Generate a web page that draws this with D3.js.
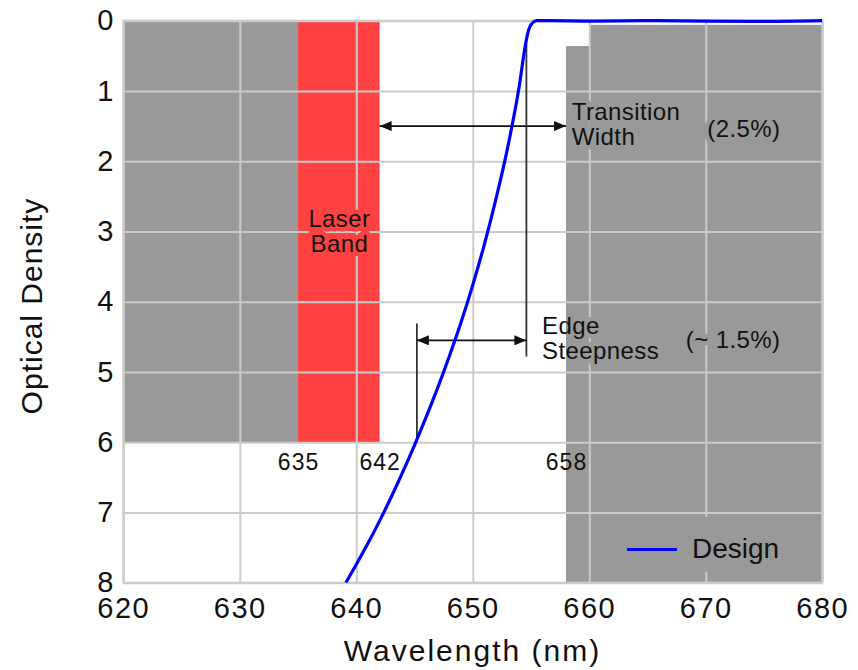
<!DOCTYPE html>
<html><head><meta charset="utf-8">
<script src="https://cdn.jsdelivr.net/npm/d3@7"></script>
<style>
body{margin:0;background:#fff}
text{font-family:"Liberation Sans",Arial,Helvetica,sans-serif;fill:#111}
</style>
</head><body>
<svg id="chart" width="858" height="670"></svg>
<script>
// ---------- data ----------
const xTicks = [620, 630, 640, 650, 660, 670, 680];
const yTicks = [0, 1, 2, 3, 4, 5, 6, 7, 8];

// Design curve (wavelength nm -> optical density)
const designWl = [639.1, 640, 641, 642, 643, 644, 645, 646, 647, 648, 649, 650, 651, 652, 653, 654, 654.5, 654.8, 655.1, 655.5, 656.5, 660, 665, 670, 675, 680];
const designOD = [8.0, 7.74, 7.44, 7.12, 6.78, 6.42, 6.04, 5.64, 5.22, 4.77, 4.29, 3.76, 3.18, 2.53, 1.80, 0.92, 0.36, 0.13, 0.035, 0.0, 0.0, 0.005, 0.0, 0.005, 0.01, 0.0];

// Specification blocks
const blockX0 = [620, 635, 658, 660];
const blockX1 = [635, 642, 660, 680];
const blockTop = [0, 0, 0.36, 0.06];
const blockBottom = [6, 6, 8, 8];
const blockKind = ["block", "laser", "block", "block"];

// Band edge labels
const edgeLabels = ["635", "642", "658"];
const edgeValues = [635, 642, 658];

// Annotation values
const transitionArrow = {from: 642, to: 658, od: 1.5};
const steepArrow = {from: 645.2, to: 654.6, od: 4.55};
const markerLines = [{wl: 654.6, od0: 0.33, od1: 4.78}, {wl: 645.2, od0: 4.31, od1: 6.0}];

const seriesName = "Design";

// ---------- layout ----------
const x = d3.scaleLinear().domain([620, 680]).range([123.3, 822.3]);
const y = d3.scaleLinear().domain([0, 8]).range([20.7, 582.7]);
const GREY = "#999999", RED = "#fe4141", GRID = "#cbcbcb";
const kindColor = {block: GREY, laser: RED};

const svg = d3.select("#chart");
const defs = svg.append("defs");

const blocks = blockX0.map((d, i) => ({x0: d, x1: blockX1[i], top: blockTop[i], bottom: blockBottom[i], kind: blockKind[i]}));

blocks.forEach((b, i) => {
  defs.append("clipPath").attr("id", "clip" + i)
    .append("rect")
    .attr("x", x(b.x0)).attr("y", y(b.top))
    .attr("width", x(b.x1) - x(b.x0)).attr("height", y(b.bottom) - y(b.top));
});
defs.append("clipPath").attr("id", "plotclip").append("rect")
  .attr("x", x(620)).attr("y", y(0) - 3).attr("width", x(680) - x(620)).attr("height", y(8) - y(0) + 3);

defs.append("marker").attr("id", "arr").attr("viewBox", "0 0 12 10")
  .attr("refX", 12).attr("refY", 5).attr("markerWidth", 12).attr("markerHeight", 10)
  .attr("markerUnits", "userSpaceOnUse").attr("orient", "auto-start-reverse")
  .append("path").attr("d", "M0,0 L12,5 L0,10 Z").attr("fill", "#111");

// ---------- blocks ----------
svg.append("g").selectAll("rect").data(blocks).join("rect")
  .attr("x", d => x(d.x0)).attr("y", d => y(d.top))
  .attr("width", d => x(d.x1) - x(d.x0)).attr("height", d => y(d.bottom) - y(d.top))
  .attr("fill", d => kindColor[d.kind]);

// ---------- grid via axes ----------
const gx = svg.append("g").attr("transform", `translate(0,${y(8)})`)
  .call(d3.axisBottom(x).tickValues(xTicks).tickSize(-(y(8) - y(0))).tickFormat(d3.format("d")).tickPadding(14));
gx.select(".domain").remove();
gx.selectAll(".tick line").attr("stroke", GRID).attr("stroke-width", 2);
gx.selectAll(".tick text").attr("font-size", 29).attr("letter-spacing", "1.5px")
  .attr("fill", "#111").attr("font-family", '"Liberation Sans",Arial,sans-serif').attr("dy", null).attr("y", 35);

const gy = svg.append("g").attr("transform", `translate(${x(620)},0)`)
  .call(d3.axisLeft(y).tickValues(yTicks).tickSize(-(x(680) - x(620))).tickFormat(d3.format("d")).tickPadding(10));
gy.select(".domain").remove();
gy.selectAll(".tick line").attr("stroke", GRID).attr("stroke-width", 2);
gy.selectAll(".tick text").attr("font-size", 29).attr("fill", "#111")
  .attr("font-family", '"Liberation Sans",Arial,sans-serif').attr("dy", "0.32em").attr("x", -10);

svg.append("rect").attr("x", x(620)).attr("y", y(0)).attr("width", x(680) - x(620)).attr("height", y(8) - y(0))
  .attr("fill", "none").attr("stroke", GRID).attr("stroke-width", 2);

// ---------- annotation text definitions ----------
const LH = 25;
const annots = [
  {lines: ["Transition", "Width"], wl: 658.5, od: 1.42, anchor: "start", size: 24},
  {lines: ["(2.5%)"], wl: 676.4, od: 1.65, anchor: "end", size: 24},
  {lines: ["Edge", "Steepness"], wl: 655.95, od: 4.455, anchor: "start", size: 24},
  {lines: ["(~ 1.5%)"], wl: 676.4, od: 4.66, anchor: "end", size: 24},
  {lines: ["Laser", "Band"], wl: 638.55, od: 2.93, anchor: "middle", size: 24}
];
function drawAnnots(g, style) {
  annots.forEach(a => {
    const t = g.append("text").attr("text-anchor", a.anchor).attr("font-size", a.size).attr("letter-spacing", "0.4px");
    a.lines.forEach((ln, i) => {
      t.append("tspan").attr("x", x(a.wl)).attr("y", y(a.od) + i * LH).text(ln);
    });
    style(t);
  });
}
blocks.forEach((b, i) => {
  const hg = svg.append("g").attr("clip-path", `url(#clip${i})`);
  drawAnnots(hg, t => t.attr("fill", kindColor[b.kind]).attr("stroke", kindColor[b.kind]).attr("stroke-width", 9).attr("stroke-linejoin", "round"));
});

svg.append("rect").attr("x", 606).attr("y", 517).attr("width", 212).attr("height", 55).attr("fill", GREY);

// ---------- annotation lines ----------
svg.append("g").selectAll("line").data(markerLines).join("line")
  .attr("x1", d => x(d.wl)).attr("x2", d => x(d.wl))
  .attr("y1", d => y(d.od0)).attr("y2", d => y(d.od1))
  .attr("stroke", "#333").attr("stroke-width", 1.8);

[transitionArrow, steepArrow].forEach(a => {
  svg.append("line").attr("x1", x(a.from)).attr("x2", x(a.to)).attr("y1", y(a.od)).attr("y2", y(a.od))
    .attr("stroke", "#111").attr("stroke-width", 1.8)
    .attr("marker-start", "url(#arr)").attr("marker-end", "url(#arr)");
});

// ---------- design curve ----------
const pts = designWl.map((w, i) => [w, designOD[i]]);
svg.append("path").datum(pts)
  .attr("clip-path", "url(#plotclip)")
  .attr("d", d3.line().x(d => x(d[0])).y(d => y(d[1])).curve(d3.curveMonotoneX))
  .attr("fill", "none").attr("stroke", "#0000ff").attr("stroke-width", 3.2).attr("stroke-linejoin", "round");

// ---------- annotation texts ----------
drawAnnots(svg.append("g"), t => t.attr("fill", "#111"));

svg.append("g").selectAll("text").data(edgeValues).join("text")
  .attr("x", d => x(d) + 0.5).attr("y", y(6.396))
  .attr("text-anchor", "middle").attr("font-size", 23).attr("letter-spacing", "1px")
  .text((d, i) => edgeLabels[i]);

// legend
svg.append("line").attr("x1", 627).attr("x2", 677).attr("y1", 549.5).attr("y2", 549.5)
  .attr("stroke", "#0000ff").attr("stroke-width", 3.2);
svg.append("text").attr("x", 692).attr("y", 557.5).attr("font-size", 28).text(seriesName);

// axis titles
svg.append("text").attr("x", 472.5).attr("y", 661).attr("text-anchor", "middle")
  .attr("font-size", 30).attr("letter-spacing", "2px").text("Wavelength (nm)");
svg.append("text").attr("transform", "translate(42,306) rotate(-90)").attr("text-anchor", "middle")
  .attr("font-size", 30).attr("letter-spacing", "1px").text("Optical Density");
</script>
</body></html>
